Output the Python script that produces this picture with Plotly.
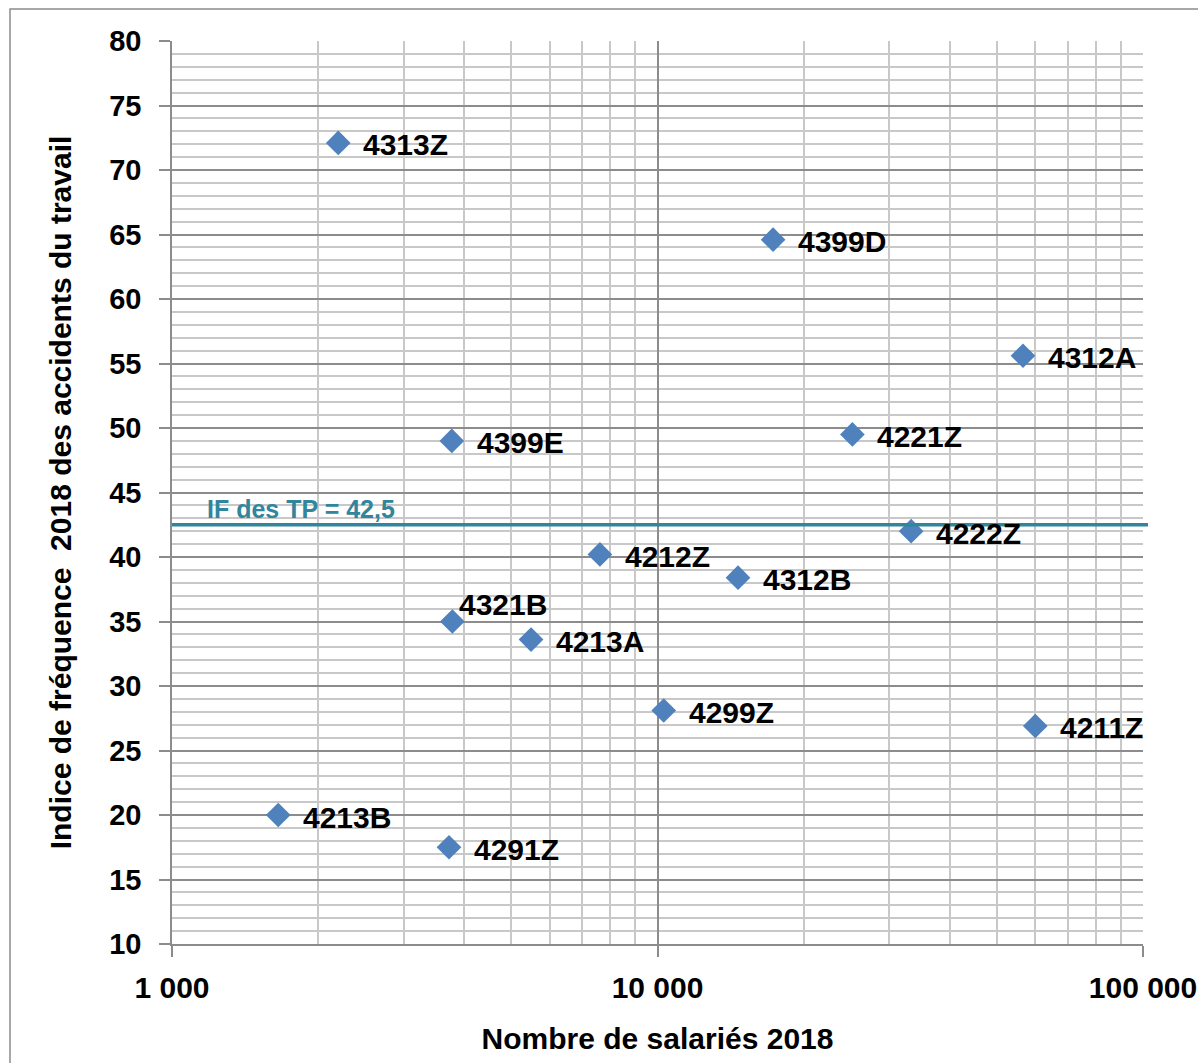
import numpy as np
import plotly.graph_objects as go

codes = ["4313Z", "4399D", "4312A", "4221Z", "4399E", "4222Z", "4212Z",
         "4312B", "4321B", "4213A", "4299Z", "4211Z", "4213B", "4291Z"]
salaries = [2200, 17300, 56600, 25200, 3770, 33300, 7610,
            14650, 3780, 5490, 10300, 60000, 1655, 3720]
indice_freq = [72.1, 64.6, 55.6, 49.5, 49.0, 42.0, 40.2,
               38.4, 35.0, 33.6, 28.1, 26.9, 20.0, 17.5]
label_above = ["4321B"]
IF_TP = 42.5
x_tick_vals = [1000, 10000, 100000]
x_tick_text = ["1 000", "10 000", "100 000"]

FONT = "Liberation Sans, Arial, sans-serif"
W, H = 1198, 1063
L, R, T, B = 172, 55, 41, 119
pw, ph = W - L - R, H - T - B

fig = go.Figure()
fig.add_trace(go.Scatter(
    x=salaries, y=indice_freq, mode="markers",
    marker=dict(symbol="diamond", size=19, color="#4F81BD", line=dict(width=0)),
    showlegend=False, cliponaxis=False,
))

annotations = []
for c, xv, yv in zip(codes, salaries, indice_freq):
    above = c in label_above
    annotations.append(dict(
        x=np.log10(xv), y=yv, xref="x", yref="y", text=c, showarrow=False,
        xanchor="left", yanchor="middle",
        xshift=5 if above else 23, yshift=17 if above else -2,
        font=dict(family=FONT, size=30, color="black", weight="bold"),
    ))
annotations.append(dict(
    x=np.log10(x_tick_vals[0]), y=IF_TP, xref="x", yref="y",
    text="IF des TP = 42,5", showarrow=False, xanchor="left", yanchor="middle",
    xshift=33, yshift=16,
    font=dict(family=FONT, size=25, color="#31859C", weight="bold"),
))

shapes = [
    dict(type="line", xref="paper", yref="y", x0=0, x1=(1148 - L) / pw,
         y0=IF_TP, y1=IF_TP, line=dict(color="#31859C", width=3.5), layer="above"),
    dict(type="rect", xref="paper", yref="paper",
         x0=(10 - L) / pw, x1=(1210 - L) / pw,
         y0=(T + ph - 1080) / ph, y1=(T + ph - 9) / ph,
         line=dict(color="#8C8C8C", width=1.5), fillcolor="rgba(0,0,0,0)", layer="below"),
]

fig.update_layout(
    width=W, height=H,
    margin=dict(l=L, r=R, t=T, b=B, autoexpand=False),
    paper_bgcolor="white", plot_bgcolor="white",
    annotations=annotations, shapes=shapes,
    xaxis=dict(
        type="log", range=[3, 5], tickvals=x_tick_vals, ticktext=x_tick_text,
        automargin=False,
        showgrid=True, gridcolor="#8C8C8C", gridwidth=1.6,
        minor=dict(dtick="D1", showgrid=True, gridcolor="#C8C8C8", gridwidth=1.6, ticks=""),
        showline=True, linecolor="#8C8C8C", linewidth=1.6,
        ticks="outside", ticklen=11, tickcolor="#8C8C8C", tickwidth=1.6,
        ticklabelstandoff=5, ticklabeloverflow="allow",
        tickfont=dict(family=FONT, size=30, color="black", weight="bold"),
        title=dict(text="Nombre de salariés 2018", standoff=25,
                   font=dict(family=FONT, size=30, color="black", weight="bold")),
        zeroline=False,
    ),
    yaxis=dict(
        range=[10, 80], dtick=5, tick0=10, automargin=False,
        showgrid=True, gridcolor="#8C8C8C", gridwidth=1.6,
        minor=dict(dtick=1, showgrid=True, gridcolor="#C8C8C8", gridwidth=1.6, ticks=""),
        showline=True, linecolor="#8C8C8C", linewidth=1.6,
        ticks="outside", ticklen=11, tickcolor="#8C8C8C", tickwidth=1.6,
        ticklabelstandoff=12,
        tickfont=dict(family=FONT, size=29, color="black", weight="bold"),
        title=dict(text="Indice de fréquence  2018 des accidents du travail", standoff=29,
                   font=dict(family=FONT, size=30, color="black", weight="bold")),
        zeroline=False,
    ),
)

fig.write_html("out.html", config={"displayModeBar": False},
               post_script="document.body.style.margin='0';")
